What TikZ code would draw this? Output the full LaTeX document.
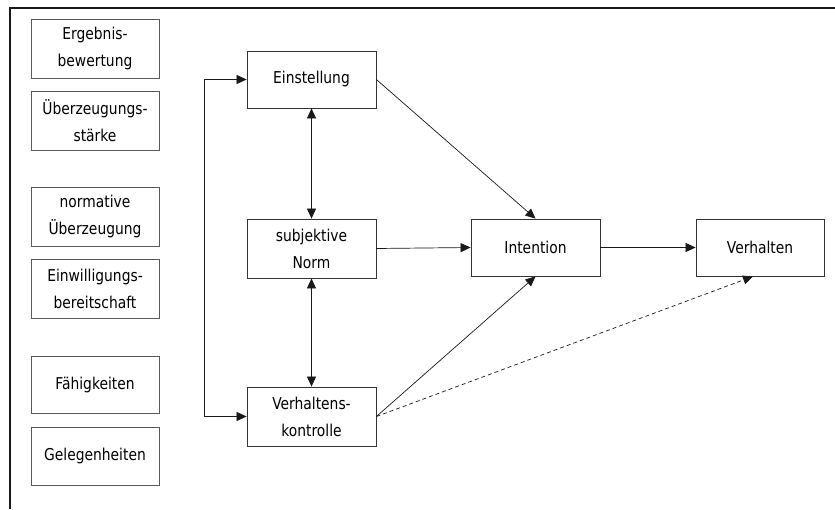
\documentclass[tikz,border=0pt]{standalone}
\usepackage{fontspec}
\setmainfont[FakeStretch=0.85]{DejaVu Sans}
\usetikzlibrary{arrows.meta}
\begin{document}
\begin{tikzpicture}[x=1pt,y=-1pt,
  every node/.style={font=\fontsize{16.3}{27}\selectfont, text=black, align=center, inner sep=0pt},
  sidebox/.style={draw=black!65, line width=0.8pt, minimum width=128pt, minimum height=59pt},
  mainbox/.style={draw=black!80, line width=0.8pt, minimum width=129pt, minimum height=57pt},
  tip/.style={-{Triangle[length=10pt,width=9pt]}},
  dtip/.style={{Triangle[length=10pt,width=9pt]}-{Triangle[length=10pt,width=9pt]}},
  conn/.style={draw=black!90, line width=0.7pt}
]
\useasboundingbox (0,0) rectangle (835,509);
\fill[white] (0,0) rectangle (835,509);

% outer frame (top and left edges)
\draw[line width=2pt, black!90] (9.5,509) -- (9.5,8) -- (835,8);

% factor boxes on the left
\node[sidebox] (erg) at (95,48.5)  {Ergebnis-\\bewertung};
\node[sidebox] (ueb) at (95,120.5) {Überzeugungs-\\stärke};
\node[sidebox] (nor) at (95,216.5) {normative\\Überzeugung};
\node[sidebox] (ein) at (95,288.5) {Einwilligungs-\\bereitschaft};
\node[sidebox, minimum height=57pt] (fae) at (95,384.5) {Fähigkeiten};
\node[sidebox, minimum height=58pt] (gel) at (95,456) {Gelegenheiten};

% model boxes
\node[mainbox] (est) at (311.5,79.5)  {Einstellung};
\node[mainbox, minimum height=59pt] (sn)  at (311.5,248.5) {subjektive\\Norm};
\node[mainbox, minimum height=59pt] (vk)  at (311.5,416.5) {Verhaltens-\\kontrolle};
\node[mainbox] (int) at (535.5,247.5) {Intention};
\node[mainbox, minimum width=128pt] (vh)  at (760,247.5) {Verhalten};

% connectors
\draw[conn, dtip] (est.west) -- ([xshift=-42pt]est.west) |- (vk.west);
\draw[conn, dtip] (est.south) -- (sn.north);
\draw[conn, dtip] (sn.south) -- (vk.north);
\draw[conn, tip] (est.east) -- (int.north);
\draw[conn, tip] (sn.east) -- (int.west);
\draw[conn, tip] (vk.east) -- (int.south);
\draw[conn, tip] (int.east) -- (vh.west);
\draw[conn, tip, dashed, dash pattern=on 4pt off 3pt] (vk.east) -- ([xshift=-7pt]vh.south);
\end{tikzpicture}
\end{document}
